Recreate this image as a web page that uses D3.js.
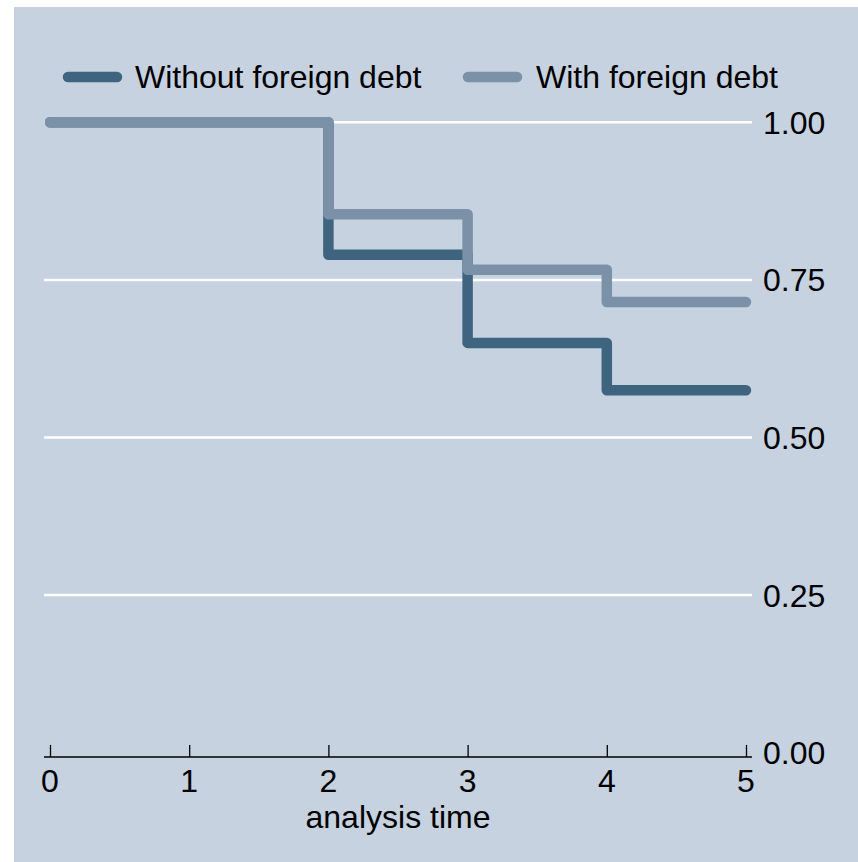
<!DOCTYPE html>
<html>
<head>
<meta charset="utf-8">
<script src="https://cdn.jsdelivr.net/npm/d3@7"></script>
<style>
  html, body { margin: 0; padding: 0; background: #ffffff; }
  svg { display: block; }
  text { font-family: "Liberation Sans", Arial, Helvetica, sans-serif; fill: #000; }
</style>
</head>
<body>
<svg id="chart" width="858" height="862"></svg>
<script>
// ---- data ----
const times = [0, 2, 3, 4, 5];
const withoutForeignDebt = [1.0, 0.79, 0.65, 0.575, 0.575];
const withForeignDebt = [1.0, 0.854, 0.766, 0.715, 0.715];
const seriesNames = ["Without foreign debt", "With foreign debt"];
const xTicks = [0, 1, 2, 3, 4, 5];
const yTicks = [0, 0.25, 0.5, 0.75, 1.0];
const xTitle = "analysis time";

// ---- styles ----
const bg = "#C6D2DF";
const colors = ["#3E6480", "#7A91A8"];
const fontSize = 32;

const svg = d3.select("#chart");
svg.append("rect").attr("x", 14).attr("y", 7).attr("width", 844).attr("height", 855).attr("fill", bg);

const x = d3.scaleLinear().domain([0, 5]).range([50, 746]);
const y = d3.scaleLinear().domain([0, 1]).range([752.6, 122.3]);
const plotLeft = 44, plotRight = 752, axisY = 757;

// gridlines
svg.append("g").selectAll("line")
  .data(yTicks.filter(d => d > 0))
  .join("line")
  .attr("x1", plotLeft).attr("x2", plotRight)
  .attr("y1", d => y(d)).attr("y2", d => y(d))
  .attr("stroke", "#ffffff").attr("stroke-width", 2.5);

// y labels (right side)
svg.append("g").selectAll("text")
  .data(yTicks)
  .join("text")
  .attr("x", 763)
  .attr("y", d => y(d))
  .attr("dy", "0.36em")
  .attr("font-size", fontSize)
  .text(d => d3.format(".2f")(d));

// x axis
const xAxis = d3.axisTop(x).tickValues(xTicks).tickSize(12).tickFormat("");
const gx = svg.append("g").attr("transform", `translate(0,${axisY})`).call(xAxis);
gx.select(".domain").attr("d", `M${plotLeft},0H${plotRight}`).attr("stroke", "#000").attr("stroke-width", 1.3);
gx.selectAll(".tick line").attr("stroke", "#000").attr("stroke-width", 1.3);

svg.append("g").selectAll("text")
  .data(xTicks)
  .join("text")
  .attr("x", d => x(d))
  .attr("y", 791.5)
  .attr("text-anchor", "middle")
  .attr("font-size", fontSize)
  .text(d => d);

svg.append("text")
  .attr("x", (plotLeft + plotRight) / 2)
  .attr("y", 828)
  .attr("text-anchor", "middle")
  .attr("font-size", fontSize)
  .text(xTitle);

// step lines
const line = d3.line()
  .x(d => x(d[0]))
  .y(d => y(d[1]))
  .curve(d3.curveStepAfter);

const allSeries = [withoutForeignDebt, withForeignDebt];
allSeries.forEach((vals, i) => {
  svg.append("path")
    .datum(times.map((t, j) => [t, vals[j]]))
    .attr("d", line)
    .attr("fill", "none")
    .attr("stroke", colors[i])
    .attr("stroke-width", 10.5)
    .attr("stroke-linecap", "round")
    .attr("stroke-linejoin", "round");
});

// legend
const legendItems = [
  { name: seriesNames[0], color: colors[0], x1: 68, x2: 117, tx: 135 },
  { name: seriesNames[1], color: colors[1], x1: 468, x2: 517, tx: 536 }
];
const lg = svg.append("g");
legendItems.forEach(it => {
  lg.append("line")
    .attr("x1", it.x1).attr("x2", it.x2)
    .attr("y1", 77).attr("y2", 77)
    .attr("stroke", it.color).attr("stroke-width", 10.5)
    .attr("stroke-linecap", "round");
  lg.append("text")
    .attr("x", it.tx).attr("y", 88)
    .attr("font-size", fontSize)
    .text(it.name);
});
</script>
</body>
</html>
